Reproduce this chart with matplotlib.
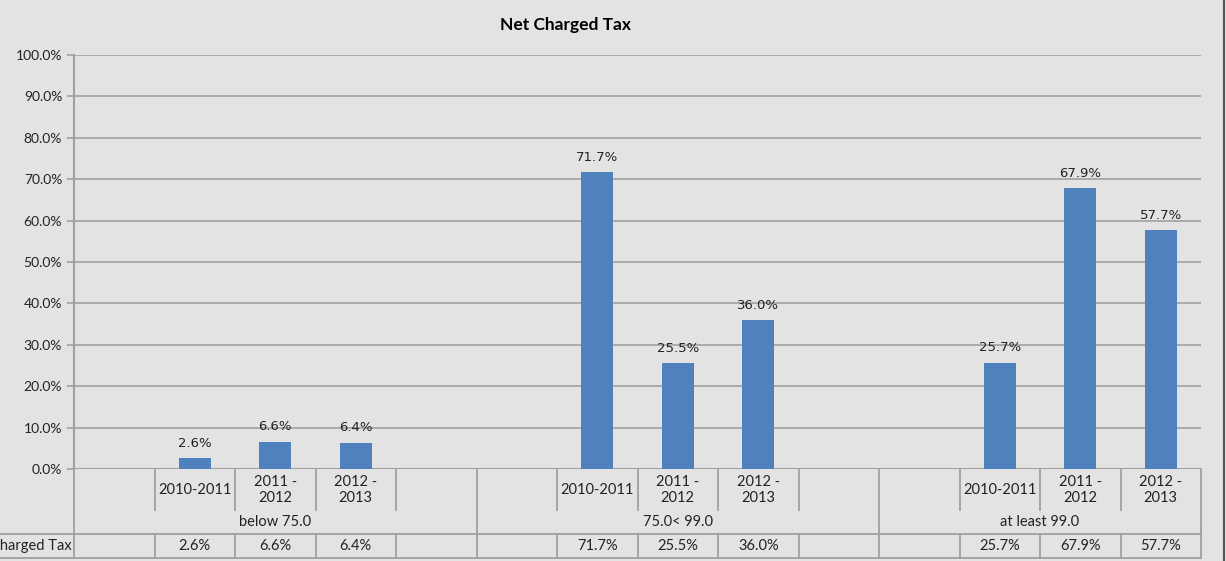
import matplotlib
matplotlib.use("Agg")
import matplotlib.pyplot as plt
from matplotlib import transforms
from matplotlib.ticker import FuncFormatter

plt.rcParams['font.family'] = ['Lato', 'DejaVu Sans']

W, H = 1226, 561
BG = "#e3e3e3"
BAR = "#4f81bd"
GRID = "#a0a0a0"
TXT = "#222222"

title = "Net Charged Tax"
groups = ["below 75.0", "75.0< 99.0", "at least 99.0"]
periods = ["2010-2011", "2011 -\n2012", "2012 -\n2013"]
below_75 = [2.6, 6.6, 6.4]
mid_75_99 = [71.7, 25.5, 36.0]
atleast_99 = [25.7, 67.9, 57.7]
series = [below_75, mid_75_99, atleast_99]
slots_per_group = [5, 5, 4]  # blank, 3 periods, blank (last group has no trailing blank)


def fx(px):
    return px / W


def fy(py):
    return 1 - py / H


fig = plt.figure(figsize=(W / 100, H / 100), dpi=100)
fig.patch.set_facecolor(BG)
ax = fig.add_axes([fx(74), fy(469), fx(1201) - fx(74), fy(55) - fy(469)])
ax.set_facecolor(BG)

n_slots = sum(slots_per_group)
ax.set_xlim(-0.5, n_slots - 0.5)
ax.set_ylim(0, 100)

# slot positions of each group
starts = [sum(slots_per_group[:i]) for i in range(len(groups))]
xs, vals, labels = [], [], []
for g, vlist in enumerate(series):
    for j, v in enumerate(vlist):
        xs.append(starts[g] + 1 + j)
        vals.append(v)
        labels.append(periods[j])

bars = ax.bar(xs, vals, width=0.4, color=BAR, zorder=3)
for x, v in zip(xs, vals):
    ax.annotate(f"{v:.1f}%", (x, v), xytext=(0, 6), textcoords="offset points",
                ha="center", va="bottom", fontsize=9.5, color=TXT, family="DejaVu Sans")

ax.set_yticks(range(0, 101, 10))
ax.yaxis.set_major_formatter(FuncFormatter(lambda y, _: f"{y:.1f}%"))
ax.tick_params(axis="y", length=5, color=GRID, width=1.2, labelsize=10, labelcolor=TXT)
ax.set_xticks([])
ax.grid(axis="y", color=GRID, linewidth=1.2, zorder=0)
for s in ["top", "right", "bottom"]:
    ax.spines[s].set_visible(False)
ax.spines["left"].set_color(GRID)
ax.spines["left"].set_linewidth(1.5)
ax.axhline(0, color=GRID, linewidth=1.5, zorder=2)

fig.text(fx(566), fy(25), title, ha="center", va="center", fontsize=12.5, fontweight="bold")

# category / table area below the axis
tr = transforms.blended_transform_factory(ax.transData, fig.transFigure)
lk = dict(color=GRID, linewidth=1.3, clip_on=False, transform=tr)

bounds = [k - 0.5 for k in range(n_slots + 1)]
group_bounds = [s - 0.5 for s in starts] + [n_slots - 0.5]
for b in bounds:
    if b in group_bounds:
        ax.plot([b, b], [fy(469), fy(558)], **lk)
    else:
        ax.plot([b, b], [fy(469), fy(510)], **lk)
        ax.plot([b, b], [fy(534), fy(558)], **lk)

ftr = fig.transFigure
fig.lines.append(plt.Line2D([0, fx(1201)], [fy(534), fy(534)], color=GRID, linewidth=1.3, transform=ftr))
fig.lines.append(plt.Line2D([0, fx(1201)], [fy(558), fy(558)], color=GRID, linewidth=1.3, transform=ftr))
fig.lines.append(plt.Line2D([fx(1224), fx(1224)], [0, 1], color="#555555", linewidth=1.5, transform=ftr))

for x, lab, v in zip(xs, labels, vals):
    ax.text(x, fy(490), lab, transform=tr, ha="center", va="center", fontsize=10.5,
            linespacing=1.2, color=TXT)
    ax.text(x, fy(546), f"{v:.1f}%", transform=tr, ha="center", va="center", fontsize=10.5,
            color=TXT)

for g, name in enumerate(groups):
    mid = (group_bounds[g] + group_bounds[g + 1]) / 2
    ax.text(mid, fy(522), name, transform=tr, ha="center", va="center", fontsize=10.5,
            color=TXT)

fig.text(fx(72), fy(546), title, ha="right", va="center", fontsize=10.5, color=TXT)

fig.savefig("out.png", dpi=100, facecolor=BG)
